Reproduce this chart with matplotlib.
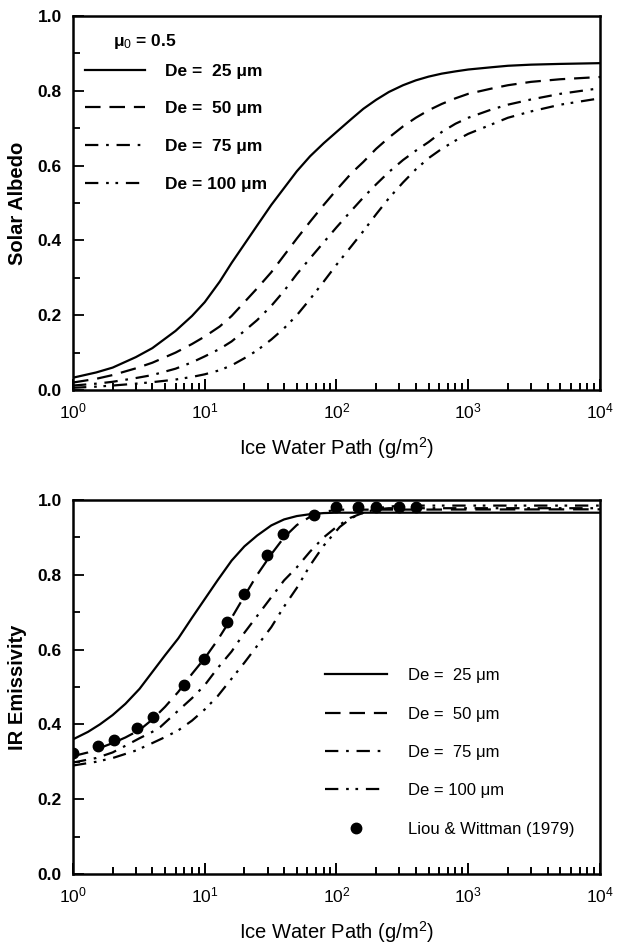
"""Solar albedo and IR emissivity of ice clouds versus ice water path."""

import matplotlib
import numpy as np

matplotlib.use("Agg")
import matplotlib.pyplot as plt  # noqa: E402
from matplotlib.lines import Line2D  # noqa: E402

plt.rcParams["font.family"] = ["Liberation Sans", "DejaVu Sans"]
plt.rcParams["mathtext.fontset"] = "custom"
plt.rcParams["mathtext.rm"] = "Liberation Sans"
plt.rcParams["mathtext.it"] = "Liberation Sans"
plt.rcParams["mathtext.bf"] = "Liberation Sans:bold"

# --- solar albedo (mu0 = 0.5) ---
alb_x = [1, 1.5, 2, 3, 4, 6, 8, 10, 13, 16, 20, 25, 32, 40, 50, 63, 80, 100, 130, 160,
         200, 250, 320, 400, 500, 630, 800, 1000, 1500, 2000, 3000, 5000, 10000]
alb_25 = [0.033, 0.047, 0.06, 0.088, 0.112, 0.158, 0.198, 0.235, 0.29, 0.34, 0.39, 0.44, 0.495, 0.54, 0.585,
          0.625, 0.66, 0.69, 0.725, 0.752, 0.776, 0.797, 0.815, 0.828, 0.838, 0.846, 0.852, 0.857, 0.863,
          0.867, 0.87, 0.872, 0.874]
alb_50 = [0.02, 0.03, 0.04, 0.058, 0.073, 0.1, 0.123, 0.143, 0.17, 0.198, 0.235, 0.272, 0.315, 0.36, 0.405,
          0.45, 0.495, 0.535, 0.58, 0.61, 0.645, 0.675, 0.705, 0.728, 0.748, 0.765, 0.78, 0.792, 0.806,
          0.815, 0.824, 0.831, 0.837]
alb_75 = [0.012, 0.017, 0.022, 0.032, 0.04, 0.057, 0.074, 0.09, 0.11, 0.13, 0.158, 0.187, 0.225, 0.265, 0.31,
          0.352, 0.395, 0.435, 0.48, 0.515, 0.55, 0.583, 0.615, 0.64, 0.663, 0.69, 0.712, 0.728, 0.75,
          0.763, 0.777, 0.792, 0.807]
alb_100 = [0.006, 0.009, 0.012, 0.017, 0.021, 0.028, 0.035, 0.042, 0.053, 0.066, 0.085, 0.106, 0.135, 0.165,
           0.2, 0.243, 0.29, 0.335, 0.385, 0.425, 0.47, 0.513, 0.555, 0.59, 0.62, 0.645, 0.667, 0.685, 0.71,
           0.728, 0.745, 0.763, 0.78]

# --- IR emissivity ---
ems_x_25 = [1, 1.3, 1.6, 2, 2.5, 3.2, 4, 5, 6.3, 8, 10, 12.5, 16, 20, 25, 32, 40, 50, 63, 80, 100, 10000]
ems_y_25 = [0.36, 0.38, 0.40, 0.425, 0.455, 0.495, 0.54, 0.585, 0.63, 0.685, 0.735, 0.785, 0.838, 0.876,
            0.905, 0.932, 0.948, 0.957, 0.962, 0.965, 0.966, 0.966]
ems_x_50 = [1, 1.3, 1.6, 2, 2.5, 3.2, 4, 5, 6.3, 8, 10, 12.5, 16, 20, 25, 32, 40, 50, 63, 80, 100, 10000]
ems_y_50 = [0.315, 0.325, 0.337, 0.35, 0.365, 0.385, 0.413, 0.447, 0.487, 0.535, 0.577, 0.625, 0.685, 0.743,
            0.8, 0.855, 0.9, 0.933, 0.955, 0.968, 0.974, 0.975]
ems_x_75 = [1, 1.5, 2, 2.57, 3.2, 4, 4.6, 6.3, 8, 10, 12.5, 16, 20, 25, 32, 40, 50, 63, 80, 100, 127,
            160, 200, 250, 10000]
ems_y_75 = [0.298, 0.31, 0.325, 0.345, 0.363, 0.38, 0.393, 0.437, 0.47, 0.505, 0.55, 0.595, 0.645, 0.69,
            0.74, 0.785, 0.82, 0.862, 0.9, 0.928, 0.952, 0.966, 0.975, 0.978, 0.978]
ems_x_100 = [1, 1.5, 2, 3, 4, 5, 6.3, 8, 10, 12.5, 15, 20, 26, 32, 40, 50, 63, 80, 106, 130, 158, 200,
             300, 10000]
ems_y_100 = [0.29, 0.3, 0.31, 0.33, 0.35, 0.366, 0.384, 0.41, 0.44, 0.475, 0.51, 0.565, 0.618, 0.66, 0.715,
             0.765, 0.825, 0.878, 0.928, 0.952, 0.965, 0.978, 0.985, 0.985]

lw_x = [1.0, 1.55, 2.05, 3.06, 4.05, 7.0, 9.9, 14.8, 19.9, 29.7, 39.4, 67.5, 99, 146, 200, 300, 400]
lw_y = [0.323, 0.342, 0.358, 0.39, 0.42, 0.505, 0.575, 0.674, 0.749, 0.853, 0.909, 0.96, 0.981, 0.981,
        0.98, 0.98, 0.98]

sizes = ["De =  25 μm", "De =  50 μm", "De =  75 μm", "De = 100 μm"]
styles = ["-", (0, (7, 4)), (0, (6, 3.5, 1.2, 3.5)), (0, (6, 3.5, 1.2, 3, 1.2, 3.5))]
LW = 1.6

fig = plt.figure(figsize=(6.24, 9.43), dpi=100)
ax1 = fig.add_axes([0.117, 0.5864, 0.8445, 0.3966])
ax2 = fig.add_axes([0.117, 0.0732, 0.8445, 0.3966])

for y, ls in zip([alb_25, alb_50, alb_75, alb_100], styles):
    ax1.plot(alb_x, y, color="black", linestyle=ls, linewidth=LW)
emiss = [(ems_x_25, ems_y_25), (ems_x_50, ems_y_50), (ems_x_75, ems_y_75), (ems_x_100, ems_y_100)]
for (x, y), ls in zip(emiss, styles):
    ax2.plot(x, y, color="black", linestyle=ls, linewidth=LW)
ax2.plot(lw_x, lw_y, "o", color="black", markersize=7.5, linestyle="none")

minor_x = [m * 10.0 ** d for d in range(4) for m in range(2, 10)]
for ax, ylabel in ((ax1, "Solar Albedo"), (ax2, "IR Emissivity")):
    ax.set_xscale("log")
    ax.set_xlim(1, 1e4)
    ax.set_ylim(0, 1)
    ax.set_xticks([1, 10, 100, 1000, 10000], ["10$^0$", "10$^1$", "10$^2$", "10$^3$", "10$^4$"])
    ax.set_xticks(minor_x, minor=True)
    ax.set_xticklabels([], minor=True)
    ax.set_yticks(np.arange(0, 1.01, 0.2), ["0.0", "0.2", "0.4", "0.6", "0.8", "1.0"])
    ax.set_yticks(np.arange(0.1, 1.0, 0.2), minor=True)
    ax.tick_params(axis="x", which="both", direction="in", bottom=True, top=False, width=1.4,
                   color="black")
    ax.tick_params(axis="y", which="both", direction="in", left=True, right=False, width=1.3)
    ax.tick_params(which="major", length=8, labelsize=12.5, pad=8)
    ax.tick_params(which="minor", length=5)
    for lab in ax.get_yticklabels():
        lab.set_fontweight("bold")
    for spine in ax.spines.values():
        spine.set_linewidth(1.8)
    ax.set_xlabel("Ice Water Path (g/m$^2$)", fontsize=14.5, labelpad=10)
    ax.set_ylabel(ylabel, fontsize=14.5, fontweight="bold", labelpad=8)

ax1.text(0.075, 0.92, "μ$_0$ = 0.5", transform=ax1.transAxes, fontsize=12.5, fontweight="bold")
handles = [Line2D([], [], color="black", linestyle=ls, linewidth=LW) for ls in styles]
ax1.legend(handles, sizes, loc="upper left", bbox_to_anchor=(-0.006, 0.915), frameon=False,
           handlelength=3.45, labelspacing=1.3, handletextpad=1.15,
           prop={"size": 12.5, "weight": "bold"})

handles2 = handles + [Line2D([], [], color="black", marker="o", markersize=7.5, linestyle="none")]
ax2.legend(handles2, sizes + ["Liou & Wittman (1979)"], loc="lower left", bbox_to_anchor=(0.45, 0.06),
           frameon=False, handlelength=3.7, labelspacing=1.4, handletextpad=1.25, prop={"size": 12})

fig.savefig("out.png", dpi=100)
